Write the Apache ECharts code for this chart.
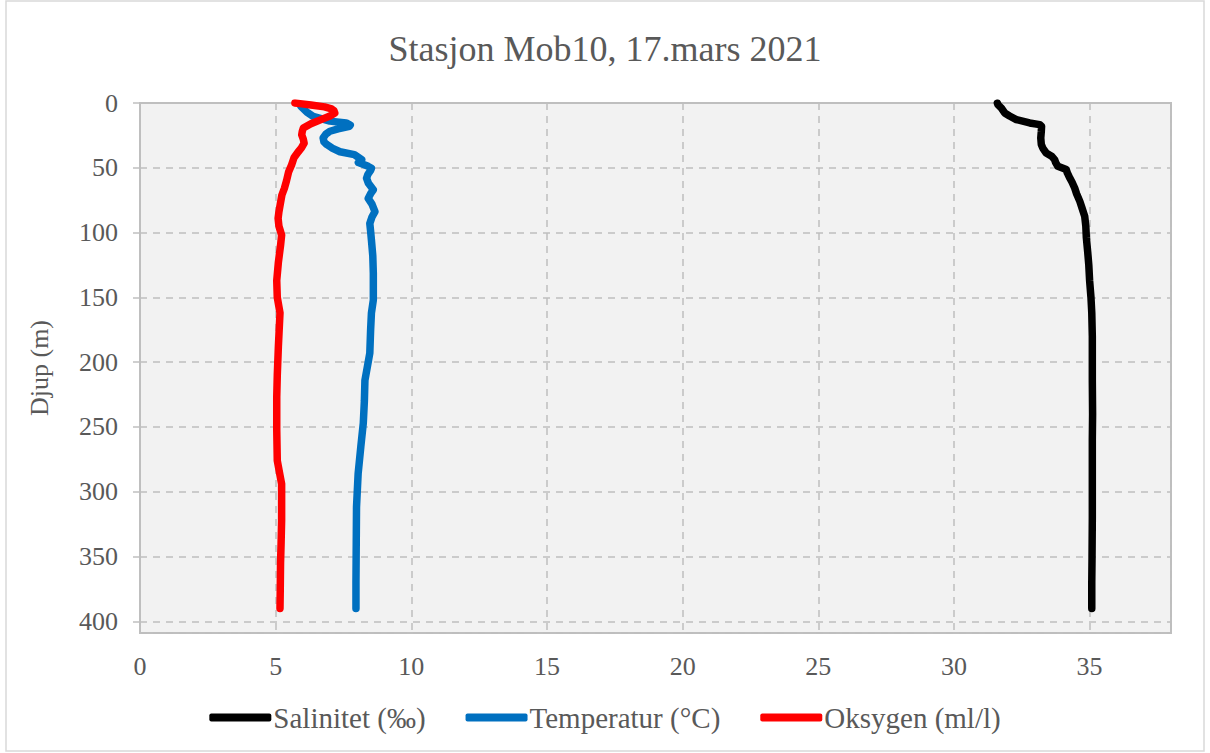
<!DOCTYPE html>
<html>
<head>
<meta charset="utf-8">
<script src="https://cdn.jsdelivr.net/npm/echarts@6/dist/echarts.min.js"></script>
<style>
  html, body { margin: 0; padding: 0; background: #ffffff; }
  #chart { width: 1210px; height: 753px; }
</style>
</head>
<body>
<div id="chart"></div>
<script>
// CTD profile, station Mob10 (depth in m)
const salDepth = [0, 1.3, 4, 7.7, 10, 12.8, 15.4, 16.7, 18, 21.8, 27, 32, 35, 38.6, 41, 43.7, 46, 48.9, 51.4, 54, 57.9, 61, 65.6, 70, 75.9, 81, 87.5, 95, 104, 115, 125, 137, 150, 162, 180, 200, 214, 240, 260, 291, 320, 350, 370, 390];
const salinity = [31.6, 31.62, 31.75, 31.87, 32.05, 32.3, 32.79, 33.16, 33.23, 33.22, 33.2, 33.22, 33.28, 33.4, 33.6, 33.71, 33.75, 33.83, 34.14, 34.18, 34.27, 34.35, 34.45, 34.52, 34.64, 34.72, 34.82, 34.86, 34.88, 34.93, 34.97, 35.0, 35.05, 35.08, 35.1, 35.1, 35.1, 35.11, 35.1, 35.1, 35.1, 35.09, 35.08, 35.08];

const tempDepth = [2.5, 7, 10.3, 14, 15.4, 17, 18, 20, 21.8, 24, 27, 30, 32, 35, 37.6, 39.8, 42, 43.7, 46, 48.9, 50.4, 52, 55, 58, 62, 67, 70, 73.6, 78, 83.8, 88, 93, 99, 105.8, 118, 131.5, 152, 162, 175, 193, 214, 230, 247, 265, 286, 312, 340, 370, 390];
const temperature = [5.93, 6.15, 6.38, 7.0, 7.6, 7.75, 7.72, 7.3, 7.0, 6.85, 6.75, 6.78, 6.88, 7.1, 7.37, 7.9, 8.05, 8.17, 8.05, 8.41, 8.53, 8.5, 8.4, 8.35, 8.42, 8.6, 8.5, 8.41, 8.55, 8.66, 8.55, 8.47, 8.5, 8.53, 8.58, 8.6, 8.6, 8.53, 8.5, 8.47, 8.29, 8.27, 8.23, 8.14, 8.04, 7.98, 7.97, 7.96, 7.96];

const oxyDepth = [0, 0.5, 1.5, 3, 4.5, 6, 7.7, 10, 13, 16, 19.3, 22, 24.5, 28, 31, 34.7, 38, 42, 47.6, 53, 60, 66, 71, 78, 84, 89, 95, 102, 110, 123, 137, 150, 162, 188, 210, 227, 252, 276, 285, 294, 310, 322, 340, 355, 375, 390];
const oxygen = [5.71, 5.9, 6.3, 6.8, 7.06, 7.15, 7.18, 7.0, 6.65, 6.3, 6.02, 5.98, 5.96, 6.02, 6.05, 5.95, 5.82, 5.68, 5.59, 5.48, 5.4, 5.32, 5.23, 5.17, 5.12, 5.09, 5.12, 5.22, 5.18, 5.1, 5.04, 5.06, 5.16, 5.1, 5.06, 5.04, 5.04, 5.06, 5.14, 5.22, 5.22, 5.22, 5.2, 5.18, 5.17, 5.16];

const seriesNames = ["Salinitet (‰)", "Temperatur (°C)", "Oksygen (ml/l)"];

const colors = {
  sal: "#000000",
  temp: "#0070c0",
  oxy: "#ff0000",
  text: "#595959",
  grid: "#bfbfbf",
  plot: "#f2f2f2",
};
const font = "'Liberation Serif', 'Times New Roman', serif";

const pairs = (vals, depths) => vals.map((v, i) => [v, depths[i]]);

const chart = echarts.init(document.getElementById("chart"), null, { renderer: "svg" });

const lineSeries = (name, color, data) => ({
  name: name,
  type: "line",
  data: data,
  showSymbol: false,
  symbol: "none",
  color: color,
  lineStyle: { width: 7.5, color: color, cap: "round", join: "round" },
  z: 3,
});

const options = {
  backgroundColor: "#ffffff",
  animation: false,
  textStyle: { fontFamily: font },
  title: {
    text: "Stasjon Mob10, 17.mars 2021",
    left: "center",
    top: 26,
    textStyle: { fontFamily: font, fontSize: 36, fontWeight: "normal", color: colors.text },
  },
  graphic: [
    {
      type: "rect",
      shape: { x: 6, y: 1, width: 1198, height: 750 },
      style: { fill: "none", stroke: "#d9d9d9", lineWidth: 1.5 },
      silent: true,
    },
  ],
  legend: {
    data: seriesNames,
    bottom: 16,
    left: "center",
    icon: "roundRect",
    itemWidth: 62,
    itemHeight: 8,
    itemGap: 40,
    textStyle: { fontFamily: font, fontSize: 29, color: colors.text, padding: [0, 0, 0, -3] },
  },
  grid: {
    left: 140,
    right: 39,
    top: 103,
    bottom: 120,
    show: true,
    backgroundColor: colors.plot,
    borderColor: colors.grid,
    borderWidth: 2,
  },
  xAxis: {
    type: "value",
    min: 0,
    max: 38,
    interval: 5,
    axisLine: { show: true, lineStyle: { color: colors.grid, width: 2 } },
    axisTick: { show: false },
    axisLabel: {
      showMaxLabel: false,
      margin: 20,
      fontFamily: font,
      fontSize: 26,
      color: colors.text,
    },
    splitLine: { show: true, lineStyle: { color: colors.grid, type: [7, 6], width: 1.5 } },
  },
  yAxis: {
    type: "value",
    inverse: true,
    min: 0,
    max: 409,
    interval: 50,
    name: "Djup (m)",
    nameLocation: "middle",
    nameGap: 88,
    nameRotate: 90,
    nameTextStyle: { fontFamily: font, fontSize: 26, color: colors.text },
    axisLine: { show: true, lineStyle: { color: colors.grid, width: 2 } },
    axisTick: { show: true, inside: false, length: 7, lineStyle: { color: colors.grid, width: 1.5 } },
    axisLabel: {
      showMaxLabel: false,
      margin: 22,
      fontFamily: font,
      fontSize: 26,
      color: colors.text,
    },
    splitLine: { show: true, lineStyle: { color: colors.grid, type: [7, 6], width: 1.5 } },
  },
  series: [
    lineSeries(seriesNames[0], colors.sal, pairs(salinity, salDepth)),
    lineSeries(seriesNames[1], colors.temp, pairs(temperature, tempDepth)),
    lineSeries(seriesNames[2], colors.oxy, pairs(oxygen, oxyDepth)),
  ],
};

chart.setOption(options);
</script>
</body>
</html>
